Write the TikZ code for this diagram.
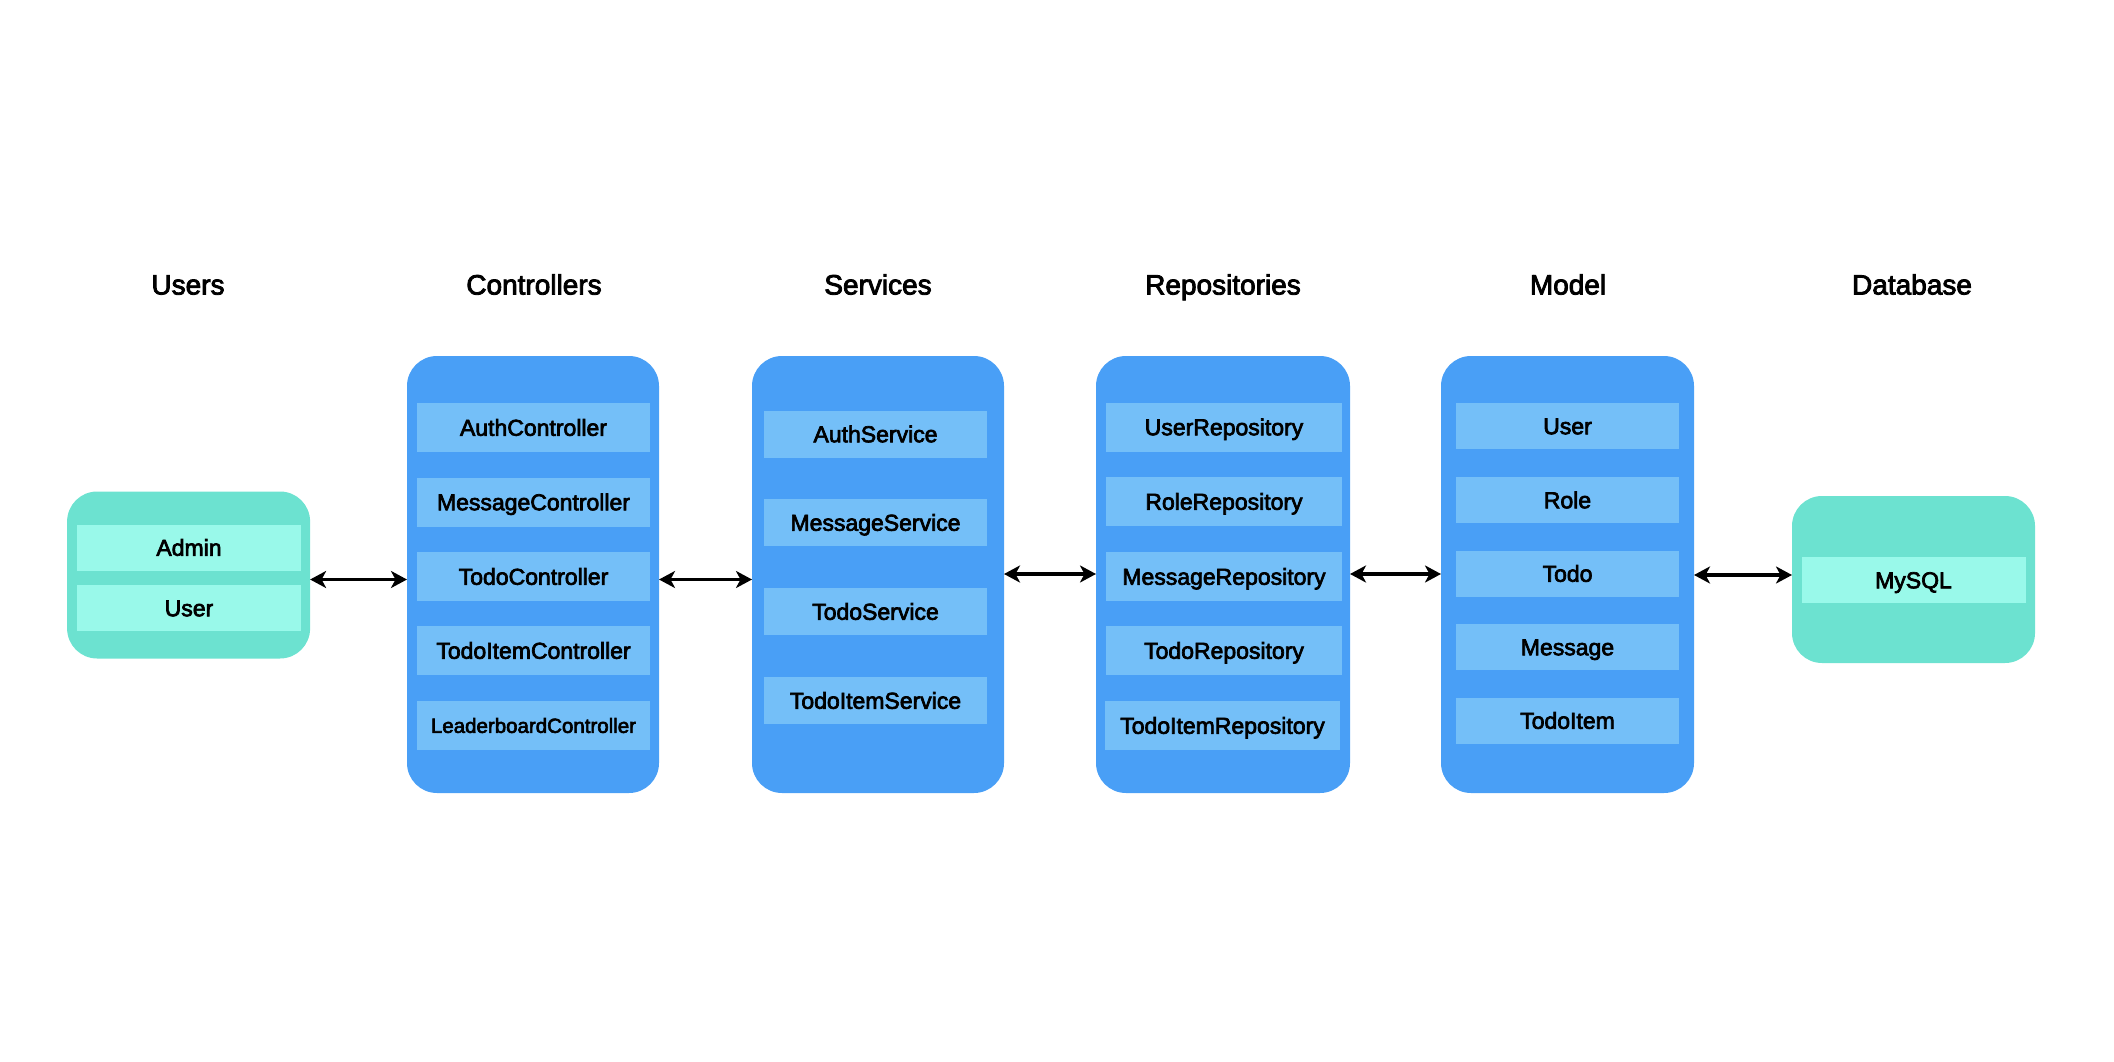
\documentclass[tikz,border=0pt]{standalone}
\usepackage{fontspec}
\setmainfont{Liberation Sans}[FakeBold=3]
\usetikzlibrary{arrows.meta}
\definecolor{boxblue}{RGB}{73,159,246}
\definecolor{itemblue}{RGB}{116,191,248}
\definecolor{boxteal}{RGB}{108,226,208}
\definecolor{itemteal}{RGB}{153,249,234}
\tikzset{
  every node/.style={inner sep=0pt, outer sep=0pt},
  header/.style={font=\fontsize{28}{32}\selectfont, text height=20pt, text depth=0pt},
  bluebox/.style={fill=boxblue, rounded corners=30pt, minimum width=#1, minimum height=437pt},
  tealbox/.style={fill=boxteal, rounded corners=30pt, minimum width=243pt, minimum height=167pt},
  item/.style={fill=itemblue, minimum width=#1, minimum height=48pt,
    font=\fontsize{23}{27}\selectfont, text height=16.5pt, text depth=0pt},
  smallitem/.style={font=\fontsize{20.5}{24}\selectfont, text height=14.7pt},
  titem/.style={fill=itemteal, minimum width=224pt, minimum height=46pt,
    font=\fontsize{23}{27}\selectfont, text height=16.5pt, text depth=0pt},
  arr/.style={draw=black, line width=3.2pt, {Stealth[length=16pt,width=17pt,inset=4.5pt]}-{Stealth[length=16pt,width=17pt,inset=4.5pt]}}
}
\begin{document}
\begin{tikzpicture}[x=1pt,y=-1pt]
\useasboundingbox (0,0) rectangle (2114,1062);

% headers
\node[header] (hUsers) at (188,284.5) {Users};
\node[header] (hCtrl) at (534,284.5) {Controllers};
\node[header] (hServ) at (878,284.5) {Services};
\node[header] (hRepo) at (1223,284.5) {Repositories};
\node[header] (hModel) at (1568,284.5) {Model};
\node[header] (hDb) at (1912,284.5) {Database};

% containers
\node[tealbox] (users) at (188.6,575) {};
\node[bluebox=252pt] (ctrl) at (533,574.5) {};
\node[bluebox=252pt] (serv) at (878,574.5) {};
\node[bluebox=254pt] (repo) at (1223,574.5) {};
\node[bluebox=253pt] (model) at (1567.5,574.5) {};
\node[tealbox] (db) at (1913.5,579.5) {};

% users
\node[titem] (uAdmin) at (189,547.5) {Admin};
\node[titem] (uUser) at (189,608) {User};

% controllers
\node[item=233pt, minimum height=49pt] (c1) at (533.5,427.5) {AuthController};
\node[item=233pt, minimum height=49pt] (c2) at (533.5,502) {MessageController};
\node[item=233pt, minimum height=49pt] (c3) at (533.5,576.5) {TodoController};
\node[item=233pt, minimum height=49pt] (c4) at (533.5,650.5) {TodoItemController};
\node[item=233pt, minimum height=49pt, smallitem] (c5) at (533.5,725.5) {LeaderboardController};

% services
\node[item=223pt, minimum height=47pt] (s1) at (875.5,434) {AuthService};
\node[item=223pt, minimum height=47pt] (s2) at (875.5,522.5) {MessageService};
\node[item=223pt, minimum height=47pt] (s3) at (875.5,611.5) {TodoService};
\node[item=223pt, minimum height=47pt] (s4) at (875.5,700.5) {TodoItemService};

% repositories
\node[item=236pt, minimum height=49pt] (r1) at (1224,427) {UserRepository};
\node[item=236pt, minimum height=49pt] (r2) at (1224,501.5) {RoleRepository};
\node[item=236pt, minimum height=49pt] (r3) at (1224,576.5) {MessageRepository};
\node[item=236pt, minimum height=49pt] (r4) at (1224,650.5) {TodoRepository};
\node[item=235pt, minimum height=49pt] (r5) at (1222.5,725.5) {TodoItemRepository};

% model
\node[item=223pt, minimum height=46pt] (m1) at (1567.5,426) {User};
\node[item=223pt, minimum height=46pt] (m2) at (1567.5,500) {Role};
\node[item=223pt, minimum height=46pt] (m3) at (1567.5,573.5) {Todo};
\node[item=223pt, minimum height=46pt] (m4) at (1567.5,647) {Message};
\node[item=223pt, minimum height=46pt] (m5) at (1567.5,720.5) {TodoItem};

% database
\node[titem] (mysql) at (1913.5,580) {MySQL};

% connectors
\draw[arr] (users.east |- 0,579.5) -- (ctrl.west |- 0,579.5);
\draw[arr] (ctrl.east |- 0,579.5) -- (serv.west |- 0,579.5);
\draw[arr] (serv.east |- 0,574) -- (repo.west |- 0,574);
\draw[arr] (repo.east |- 0,574) -- (model.west |- 0,574);
\draw[arr] (model.east |- 0,575) -- (db.west |- 0,575);
\end{tikzpicture}
\end{document}
